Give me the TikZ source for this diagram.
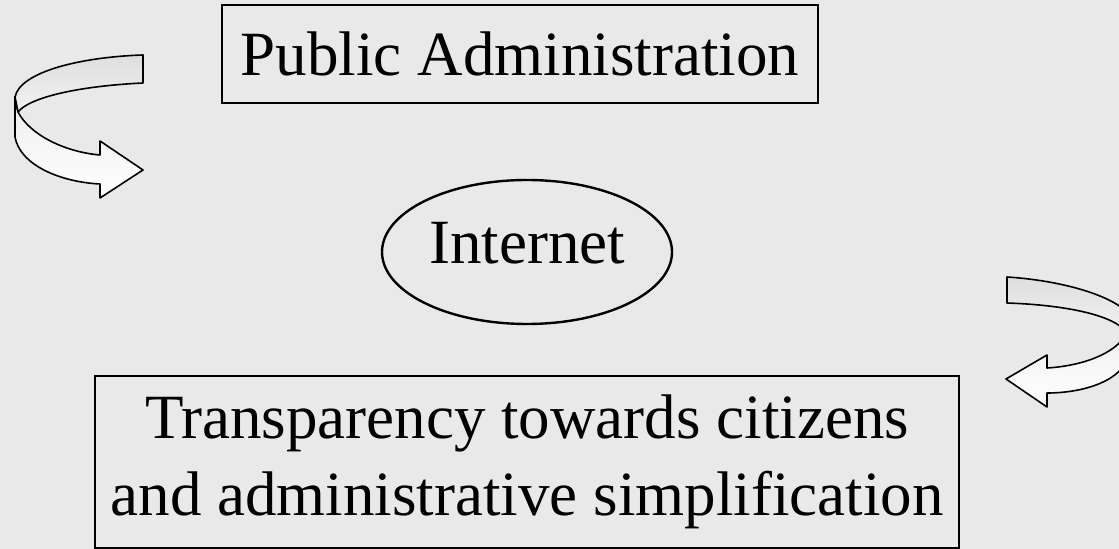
\documentclass[tikz,border=0pt]{standalone}
\usepackage{fontspec}
\setmainfont{Liberation Serif}
\usetikzlibrary{shapes.geometric}
\definecolor{bgcol}{RGB}{233,233,233}
\tikzset{
	box/.style={draw, line width=1.2pt, inner sep=2pt, font=\fontsize{31.5}{38.5}\selectfont},
	ribbon/.style={draw, line width=0.8pt, line join=round},
	backband/.style={ribbon, top color=black!13, bottom color=black!5},
	frontband/.style={ribbon, top color=black!7, bottom color=white}
}
\begin{document}
\begin{tikzpicture}[x=0.5pt, y=-0.5pt]
		\fill[bgcol] (0,0) rectangle (1119,549);
		\useasboundingbox (0,0) rectangle (1119,549);
		\node[box, minimum width=298pt, minimum height=49pt] (pa) at (520,54) {Public Administration};
		\node[box, ellipse, inner sep=0pt, text depth=9pt, minimum width=145pt, minimum height=72pt] (net) at (527,252) {Internet};
		\node[box, align=center, minimum width=432pt, minimum height=86pt] (tc) at (527,462) {Transparency towards citizens\\and administrative simplification};
		\draw[frontband] (15,97) -- (15,137) .. controls (20,165) and (60,182) .. (100,184) -- (100,198) -- (143,170) -- (100,141) -- (100,155) .. controls (65,152) and (30,135) .. (18,112) -- cycle;
		\draw[backband] (143,55) .. controls (80,57) and (20,72) .. (15,97) -- (18,112) .. controls (30,97) and (80,86) .. (143,83) -- cycle;
		\draw[frontband] (1130,318) -- (1130,352) .. controls (1125,380) and (1085,393) .. (1047,393) -- (1047,407) -- (1006,379) -- (1047,355) -- (1047,368) .. controls (1080,366) and (1115,355) .. (1127,333) -- cycle;
		\draw[backband] (1007,277) .. controls (1070,281) and (1124,300) .. (1130,318) -- (1127,333) .. controls (1115,315) and (1065,305) .. (1007,303) -- cycle;
\end{tikzpicture}
\end{document}
